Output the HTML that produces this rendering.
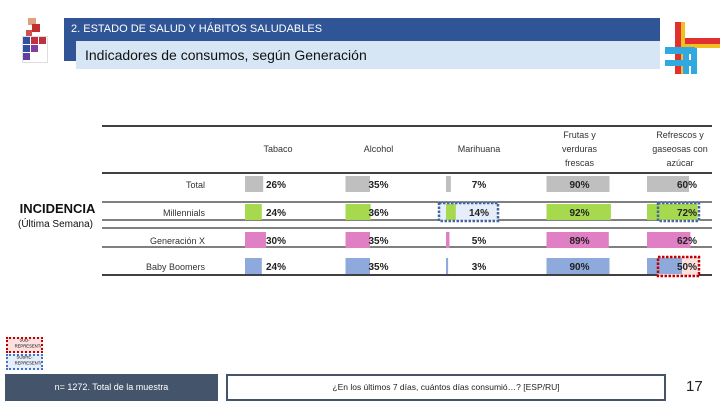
<!DOCTYPE html>
<html><head><meta charset="utf-8"><style>
body{margin:0;width:720px;height:405px;background:#fff;position:relative;overflow:hidden;font-family:"Liberation Sans",sans-serif}
.a{position:absolute}
.lg span{display:block;transform:scale(0.6);transform-origin:center top;white-space:nowrap;font-size:7px;line-height:6px}
</style></head><body>
<div class="a" style="left:20px;top:18px;width:28px;height:45px">
 <div class="a" style="left:8px;top:0;width:8px;height:7px;background:#e0a080"></div>
 <div class="a" style="left:12px;top:6px;width:8px;height:8px;background:#c03030"></div>
 <div class="a" style="left:6px;top:12px;width:6px;height:6px;background:#d05050"></div>
 <div class="a" style="left:2px;top:18px;width:24px;height:25px;border:1px solid #ddd"></div>
 <div class="a" style="left:3px;top:19px;width:7px;height:7px;background:#3050a0"></div>
 <div class="a" style="left:11px;top:19px;width:7px;height:7px;background:#c03040"></div>
 <div class="a" style="left:19px;top:19px;width:7px;height:7px;background:#c03040"></div>
 <div class="a" style="left:3px;top:27px;width:7px;height:7px;background:#3050a0"></div>
 <div class="a" style="left:11px;top:27px;width:7px;height:7px;background:#8040a0"></div>
 <div class="a" style="left:3px;top:35px;width:7px;height:7px;background:#6040a0"></div>
</div>
<div class="a" style="left:64px;top:18px;width:596px;height:23px;background:#2f5597;color:#fff;font-size:11px;line-height:23px;padding-left:7px;box-sizing:border-box">2. ESTADO DE SALUD Y HÁBITOS SALUDABLES</div>
<div class="a" style="left:64px;top:41px;width:12px;height:20px;background:#2f5597"></div>
<div class="a" style="left:76px;top:41px;width:584px;height:28px;background:#d6e6f5;font-size:14px;line-height:28px;padding-left:9px;box-sizing:border-box;color:#111">Indicadores de consumos, según Generación</div>
<div class="a" style="left:665px;top:22px;width:56px;height:52px">
 <div class="a" style="left:10px;top:0;width:6px;height:52px;background:#e03030"></div>
 <div class="a" style="left:16px;top:0;width:4px;height:52px;background:#f0c020"></div>
 <div class="a" style="left:20px;top:16px;width:36px;height:6px;background:#e03030"></div>
 <div class="a" style="left:20px;top:22px;width:36px;height:4px;background:#f0c020"></div>
 <div class="a" style="left:0;top:25px;width:30px;height:7px;background:#30a8e0"></div>
 <div class="a" style="left:0;top:38px;width:26px;height:6px;background:#30a8e0"></div>
 <div class="a" style="left:26px;top:26px;width:6px;height:26px;background:#30a8e0"></div>
 <div class="a" style="left:18px;top:32px;width:6px;height:20px;background:#30a8e0"></div>
</div>

<div class="a" style="left:10px;top:201px;width:95px;text-align:center;font-size:13px;font-weight:bold;color:#111">INCIDENCIA</div>
<div class="a" style="left:8px;top:219px;width:95px;text-align:center;font-size:10px;color:#111">(Última Semana)</div>

<svg class="a" style="left:0;top:0" width="720" height="405" id="chart"></svg>

<div class="a lg" style="left:6px;top:337px;width:37px;height:16px;border:2px dotted #c00000;background:#fde0e0;text-align:center;box-sizing:border-box;overflow:hidden"><span>SUB-</span><span>REPRESENTADO</span></div>
<div class="a lg" style="left:6px;top:354px;width:37px;height:16px;border:2px dotted #4472c4;background:#e6eef9;text-align:center;box-sizing:border-box;overflow:hidden"><span>SOBRE-</span><span>REPRESENTADO</span></div>
<div class="a" style="left:5px;top:374px;width:213px;height:27px;background:#44546a;color:#fff;font-size:9px;line-height:27px;text-align:center">n= 1272. Total de la muestra</div>
<div class="a" style="left:226px;top:374px;width:440px;height:27px;border:2px solid #44546a;box-sizing:border-box;font-size:8.5px;line-height:23px;text-align:center;color:#222">¿En los últimos 7 días, cuántos días consumió…? [ESP/RU]</div>
<div class="a" style="left:686px;top:378px;font-size:15px;color:#222">17</div>

<script>
const categories=["Tabaco","Alcohol","Marihuana","Frutas y verduras frescas","Refrescos y gaseosas con azúcar"];
const groups=["Total","Millennials","Generación X","Baby Boomers"];
const totalVals=[26,35,7,90,60];
const millVals=[24,36,14,92,72];
const genxVals=[30,35,5,89,62];
const boomVals=[24,35,3,90,50];
const series=[totalVals,millVals,genxVals,boomVals];
const colors=["#bfbfbf","#a6d94e","#e07fc4","#8ea9db"];
const highlights=[{r:1,c:2,t:"over"},{r:1,c:4,t:"over"},{r:3,c:4,t:"under"}];
const NS="http://www.w3.org/2000/svg";
const svg=document.getElementById('chart');
function mk(tag,attrs){const e=document.createElementNS(NS,tag);for(const k in attrs)e.setAttribute(k,attrs[k]);svg.appendChild(e);return e;}
const colX=c=>245+c*100.5;
const rowY=r=>[176,204,232,258][r];
const barW=v=>v*0.7;
const headerLines=[["Tabaco"],["Alcohol"],["Marihuana"],["Frutas y","verduras","frescas"],["Refrescos y","gaseosas con","azúcar"]];
[[126,1.5],[173,1.5],[202,1],[220,1],[228,1],[247,1],[275,1.5]].forEach(([y,w])=>{
 const l=mk('line',{x1:102,x2:712,y1:y,y2:y,stroke:'#000','stroke-width':w});
 
 
});
categories.forEach((c,i)=>{
 const lines=headerLines[i];const cx=colX(i)+33;
 lines.forEach((s,j)=>{
  const t=mk('text',{x:cx,y:152+(j-(lines.length-1)/2)*14,'text-anchor':'middle','font-size':9,fill:'#333'});
  t.textContent=s;
  
  
 });
});
groups.forEach((g,r)=>{
 const t=mk('text',{x:205,y:rowY(r)+12,'text-anchor':'end','font-size':9,fill:'#333'});
 t.textContent=g;
 
 
});
highlights.forEach(h=>{
 const x0=h.c===2?colX(h.c)-7:colX(h.c)+11;
 const b=mk('rect',{x:x0,y:rowY(h.r)-1,width:h.c===2?59:41,height:h.r===3?19:18,fill:h.t==='over'?'#e6eef9':'#fde0e0'});
 
 
});
series.forEach((vals,r)=>{
 vals.forEach((v,c)=>{
  const b=mk('rect',{x:colX(c),y:rowY(r),width:barW(v),height:16,fill:colors[r]});
  
  
  const lx=[31,33,33,33,40][c];
  const t=mk('text',{x:colX(c)+lx,y:rowY(r)+12,'text-anchor':'middle','font-size':10,'font-weight':'bold',fill:'#222'});
  t.textContent=v+'%';
  
  
 });
});
highlights.forEach(h=>{
 const x0=h.c===2?colX(h.c)-7:colX(h.c)+11;
 const b=mk('rect',{x:x0,y:rowY(h.r)-1,width:h.c===2?59:41,height:h.r===3?19:18,fill:'none',stroke:h.t==='over'?'#44689c':'#c00000','stroke-width':2.5,'stroke-dasharray':'2.5,1.5'});
 
 
});
</script>
</body></html>
